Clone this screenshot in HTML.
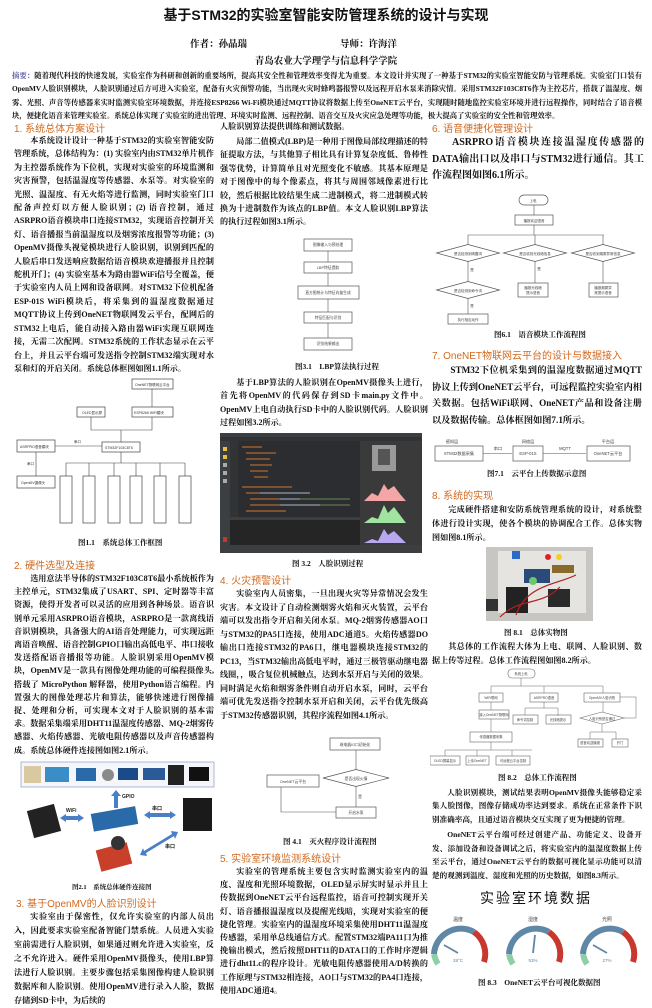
<!DOCTYPE html>
<html><head><meta charset="utf-8">
<style>
*{margin:0;padding:0;box-sizing:border-box}
body{width:652px;height:996px;background:#fff;position:relative;overflow:hidden;font-family:"Liberation Serif","Noto Serif CJK SC",serif;color:#111}
.a{position:absolute}
.p{position:absolute;font-size:8.1px;line-height:12.7px;font-weight:bold;text-align:justify;text-indent:2em}
.h{position:absolute;font-size:10px;color:#d2691e;font-family:"Liberation Sans","Noto Sans CJK SC",sans-serif;white-space:nowrap}
.c{position:absolute;font-size:7.5px;font-weight:bold;white-space:nowrap}
svg{position:absolute}
svg text{font-family:"Liberation Sans","Noto Sans CJK SC",sans-serif}
</style></head><body>

<div class="a" style="left:0;width:652px;top:5px;text-align:center;font-size:14px;font-weight:bold;font-family:'Liberation Sans','Noto Sans CJK SC',sans-serif">基于STM32的实验室智能安防管理系统的设计与实现</div>
<div class="a" style="left:190px;top:36px;font-size:9.5px;font-weight:bold">作者：孙晶瑞</div>
<div class="a" style="left:340px;top:36px;font-size:9.5px;font-weight:bold">导师：许海洋</div>
<div class="a" style="left:0;width:652px;top:53px;text-align:center;font-size:9.5px;font-weight:bold">青岛农业大学理学与信息科学学院</div>
<div class="a" style="left:12px;top:69px;width:630px;font-size:7.3px;line-height:13.4px;font-weight:bold;text-align:justify"><span style="color:#5a5aa8">摘要：</span>随着现代科技的快速发展，实验室作为科研和创新的重要场所，提高其安全性和管理效率变得尤为重要。本文设计并实现了一种基于STM32的实验室智能安防与管理系统。实验室门口装有OpenMV人脸识别模块，人脸识别通过后方可进入实验室，配备有火灾预警功能，当出现火灾时蜂鸣器报警以及远程开启水泵来消除灾情。采用STM32F103C8T6作为主控芯片，搭载了温湿度、烟雾、光照、声音等传感器来实时监测实验室环境数据，并连接ESP8266 Wi-Fi模块通过MQTT协议将数据上传至OneNET云平台，实现随时随地监控实验室环境并进行远程操作，同时结合了语音模块，便捷化语音来管理实验室。系统总体实现了实验室的进出管理、环境实时监测、远程控制、语音交互及火灾应急处理等功能，极大提高了实验室的安全性和管理效率。</div>

<!-- LEFT COLUMN -->
<div class="h" style="left:14px;top:120px">1. 系统总体方案设计</div>
<div class="p" style="left:14px;top:134px;width:200px;line-height:13.4px">本系统设计设计一种基于STM32的实验室智能安防管理系统，总体结构为：(1) 实验室内由STM32单片机作为主控器系统作为下位机，实现对实验室的环境监测和灾害预警，包括温湿度等传感器、水泵等。对实验室的光照、温湿度、有无火焰等进行监测，同时实验室门口配备声控灯以方便人脸识别；(2) 语音控制，通过ASRPRO语音模块串口连接STM32，实现语音控制开关灯、语音播报当前温湿度以及烟雾浓度报警等功能；(3) OpenMV摄像头视觉模块进行人脸识别，识别到匹配的人脸后串口发送响应数据给语音模块欢迎播报并且控制舵机开门；(4) 实验室基本为路由器WiFi信号全覆盖，便于实验室内人员上网和设备联网。对STM32下位机配备ESP-01S WiFi模块后，将采集到的温湿度数据通过MQTT协议上传到OneNET物联网发云平台，配网后的STM32上电后，能自动接入路由器WiFi实现互联网连接，无需二次配网。STM32系统的工作状态显示在云平台上，并且云平台端可发送指令控制STM32端实现对水泵和灯的开启关闭。系统总体框图如图1.1所示。</div>

<svg style="left:0;top:372px" width="215" height="160" viewBox="0 372 215 160">
<g fill="#fff" stroke="#444" stroke-width="0.7">
<rect x="132" y="379" width="41" height="10"/><rect x="77" y="407" width="28" height="10"/><rect x="132" y="407" width="41" height="10"/>
<rect x="102" y="442" width="38" height="10"/><rect x="17" y="440" width="38" height="12"/><rect x="17" y="476" width="38" height="12"/>
<rect x="60" y="476" width="12" height="47"/><rect x="83" y="476" width="12" height="47"/><rect x="108" y="476" width="12" height="47"/><rect x="130" y="476" width="12" height="47"/><rect x="154" y="476" width="12" height="47"/><rect x="179" y="476" width="12" height="47"/>
</g>
<g stroke="#444" stroke-width="0.6" fill="none">
<path d="M152 407V389M121 442V430H91V417M121 430H152V417M55 446H102M36 452V476M121 452V463H66V476M89 463V476M114 463V476M136 463V476M160 463V476M185 463H185V476M121 463H185"/>
</g>
<g font-size="3.5" fill="#333"><text x="135" y="386">OneNET物联网云平台</text><text x="82" y="414">OLED显示屏</text><text x="134" y="414">ESP8266 WiFi模块</text><text x="105" y="449">STM32F103C8T6</text><text x="20" y="448">ASRPRO语音模块</text><text x="21" y="484">OpenMV摄像头</text><text x="74" y="443">串口</text><text x="27" y="465">串口</text></g>
</svg>
<div class="c" style="left:78px;top:537px">图1.1　系统总体工作框图</div>

<div class="h" style="left:14px;top:557px">2. 硬件选型及连接</div>
<div class="p" style="left:14px;top:572px;width:200px;line-height:13.2px">选用意法半导体的STM32F103C8T6最小系统板作为主控单元，STM32集成了USART、SPI、定时器等丰富资源，使得开发者可以灵活的应用到各种场景。语音识别单元采用ASRPRO语音模块，ASRPRO是一款离线语音识别模块，具备强大的AI语音处理能力，可实现远距离语音唤醒、语音控制GPIO口输出高低电平、串口接收发送搭配语音播报等功能。人脸识别采用OpenMV模块，OpenMV是一款具有图像处理功能的可编程摄像头,搭载了 MicroPython 解释器，使用Python语言编程。内置强大的图像处理芯片和算法，能够快速进行图像捕捉、处理和分析，可实现本文对于人脸识别的基本需求。数据采集端采用DHT11温湿度传感器、MQ-2烟雾传感器、火焰传感器、光敏电阻传感器以及声音传感器构成。系统总体硬件连接图如图2.1所示。</div>

<svg style="left:0;top:760px" width="215" height="125" viewBox="0 760 215 125">
<rect x="21" y="762" width="193" height="25" fill="#f4f6fa" stroke="#9aa8c8" stroke-width="0.8"/>
<rect x="24" y="766" width="17" height="17" fill="#d9c9a0"/><rect x="45" y="767" width="24" height="15" fill="#3a8ec8"/><rect x="76" y="768" width="20" height="13" fill="#2a6aa8"/><circle cx="108" cy="775" r="6" fill="#8a8a8a"/><rect x="118" y="768" width="20" height="12" fill="#1a4a88"/><rect x="143" y="768" width="22" height="12" fill="#2a5a98"/><rect x="168" y="765" width="16" height="20" fill="#222"/><rect x="189" y="767" width="20" height="14" fill="#111"/>
<rect x="30" y="807" width="28" height="28" fill="#222" transform="rotate(-15 44 821)"/>
<rect x="92" y="810" width="45" height="18" fill="#2a6aa8" transform="rotate(-10 114 819)"/>
<rect x="183" y="798" width="29" height="33" fill="#1a1a1a"/>
<rect x="98" y="846" width="32" height="22" fill="#c8402a" transform="rotate(-15 114 857)"/><circle cx="118" cy="843" r="7" fill="#333"/>
<g fill="#4a7fc8"><path d="M60 818l6-4v2h12v-2l6 4-6 4v-2H66v2z"/><path d="M144 815l6-4v2h20v-2l6 4-6 4v-2h-20v2z"/><path d="M114 808v-12h-3l5-6 5 6h-3v12z"/><path d="M140 855l3-7 1 3 28-17-1-3 7 1-3 7-1-3-28 17 1 3z"/></g>
<g font-size="5" font-weight="bold" fill="#222"><text x="66" y="812">WiFi</text><text x="122" y="798">GPIO</text><text x="152" y="810">串口</text><text x="165" y="848">串口</text></g>
</svg>
<div class="c" style="left:72px;top:882px;font-size:6.5px">图2.1　系统总体硬件连接图</div>
<div class="h" style="left:16px;top:895px">3. 基于OpenMV的人脸识别设计</div>
<div class="p" style="left:14px;top:910px;width:200px;line-height:14px">实验室由于保密性，仅允许实验室的内部人员出入，因此要求实验室配备智能门禁系统。人员进入实验室前需进行人脸识别，如果通过则允许进入实验室，反之不允许进入。硬件采用OpenMV摄像头，使用LBP算法进行人脸识别。主要步骤包括采集图像构建人脸识别数据库和人脸识别。使用OpenMV进行录入人脸，数据存储到SD卡中，为后续的</div>

<!-- MIDDLE COLUMN -->
<div class="p" style="left:220px;top:121px;width:208px;text-indent:0">人脸识别算法提供训练和测试数据。</div>
<div class="p" style="left:220px;top:135px;width:208px;line-height:13.4px">局部二值模式(LBP)是一种用于图像局部纹理描述的特征提取方法，与其他算子相比具有计算复杂度低、鲁棒性强等优势，计算简单且对光照变化不敏感。其基本原理是对于图像中的每个像素点，将其与周围邻域像素进行比较，然后根据比较结果生成二进制模式，将二进制模式转换为十进制数作为该点的LBP值。本文人脸识别LBP算法的执行过程如图3.1所示。</div>
<svg style="left:290px;top:236px" width="80" height="118" viewBox="290 236 80 118">
<g fill="#fff" stroke="#555" stroke-width="0.7"><rect x="304" y="239" width="48" height="12"/><rect x="304" y="262" width="48" height="11"/><rect x="298" y="286" width="61" height="13"/><rect x="304" y="312" width="48" height="11"/><rect x="304" y="338" width="48" height="12"/></g>
<g stroke="#555" stroke-width="0.6"><path d="M328 251v11M328 273v13M328 299v13M328 323v15"/></g>
<g font-size="3.8" fill="#444" text-anchor="middle"><text x="328" y="246">图像输入与预处理</text><text x="328" y="269">LBP特征提取</text><text x="328" y="294">直方图统计与特征向量生成</text><text x="328" y="319">特征匹配与识别</text><text x="328" y="345">识别结果输出</text></g>
</svg>
<div class="c" style="left:295px;top:361px">图3.1　LBP算法执行过程</div>
<div class="p" style="left:220px;top:376px;width:208px;line-height:13.4px">基于LBP算法的人脸识别在OpenMV摄像头上进行，首先将OpenMV的代码保存到SD卡main.py文件中。OpenMV上电自动执行SD卡中的人脸识别代码。人脸识别过程如图3.2所示。</div>
<svg style="left:220px;top:433px" width="202" height="120" viewBox="0 0 202 120">
<rect width="202" height="120" fill="#2b2d30"/><rect width="202" height="4" fill="#3c3f41"/><rect y="4" width="202" height="4" fill="#313335"/>
<rect x="0" y="8" width="10" height="112" fill="#3c3f41"/>
<g fill="#e8c040"><rect x="3" y="14" width="4" height="4"/><rect x="3" y="22" width="4" height="4"/></g><g fill="#aaa"><rect x="3" y="30" width="4" height="4"/><rect x="3" y="38" width="4" height="4"/><rect x="3" y="46" width="4" height="4"/></g><rect x="3" y="104" width="4" height="5" fill="#c0392b"/>
<rect x="10" y="8" width="8" height="76" fill="#313335"/>
<g stroke-width="1"><path d="M22 14h20M26 20h30M26 26h24M30 32h22M30 38h18M34 44h14M22 54h50M26 60h60M30 66h90M30 72h70M26 78h40" stroke="#cc7832"/><path d="M60 66h40M60 72h60M40 60h50" stroke="#a9b7c6"/><path d="M80 66h50M100 72h30" stroke="#6a8759"/></g>
<rect x="10" y="84" width="184" height="28" fill="#252525"/><rect x="10" y="84" width="184" height="3" fill="#3c3f41"/>
<rect x="140" y="8" width="62" height="104" fill="#3a3a3a"/><rect x="152" y="12" width="24" height="26" fill="#999"/><rect x="158" y="16" width="12" height="16" fill="#555"/>
<path d="M144 68l8-8 6 3 6-12 4 6 6-4 6 8 6 7z" fill="#f4a6a6"/><path d="M144 90l8-6 6 2 6-14 4 8 6-6 6 8 6 8z" fill="#9fe49f"/><path d="M144 110l8-4 6 2 6-12 4 6 6-4 6 6 6 6z" fill="#b8a8f0"/>
<rect y="112" width="202" height="8" fill="#3c3f41"/>
</svg>
<div class="c" style="left:292px;top:558px">图 3.2　人脸识别过程</div>
<div class="h" style="left:220px;top:572px">4. 火灾预警设计</div>
<div class="p" style="left:220px;top:587px;width:208px;line-height:13.5px">实验室内人员密集，一旦出现火灾等异常情况会发生灾害。本文设计了自动检测烟雾火焰和灭火装置，云平台端可以发出指令开启和关闭水泵。MQ-2烟雾传感器AO口与STM32的PA5口连接，使用ADC通道5。火焰传感器DO输出口连接STM32的PA6口，继电器模块连接STM32的PC13，当STM32输出高低电平时，通过三极管驱动继电器线圈，，吸合复位机械触点，达到水泵开启与关闭的效果。同时满足火焰和烟雾条件则自动开启水泵，同时，云平台端可优先发送指令控制水泵开启和关闭，云平台优先级高于STM32传感器识别，其程序流程如图4.1所示。</div>
<svg style="left:260px;top:735px" width="130" height="90" viewBox="260 735 130 90">
<g fill="#fff" stroke="#555" stroke-width="0.7"><rect x="330" y="738" width="50" height="12"/><path d="M323 778l33-8.5 33 8.5-33 8.5z"/><rect x="267" y="775" width="52" height="12"/><rect x="336" y="807" width="40" height="11"/></g>
<g stroke="#555" stroke-width="0.6" fill="none"><path d="M356 750v20M356 786.5v20.5M281 787v25h55"/></g>
<g font-size="3.8" fill="#444" text-anchor="middle"><text x="355" y="746">继电器IO口初始化</text><text x="356" y="780">是否出现火情</text><text x="293" y="783">OneNET云平台</text><text x="356" y="814">开启水泵</text><text x="360" y="798">是</text></g>
</svg>
<div class="c" style="left:283px;top:836px">图 4.1　灭火程序设计流程图</div>
<div class="h" style="left:220px;top:850px">5. 实验室环境监测系统设计</div>
<div class="p" style="left:220px;top:865px;width:208px;line-height:13.2px">实验室的管理系统主要包含实时监测实验室内的温度、湿度和光照环境数据，OLED显示屏实时显示并且上传数据到OneNET云平台远程监控，语音可控制实现开关灯、语音播报温湿度以及提醒光线暗，实现对实验室的便捷化管理。实验室内的温湿度环境采集使用DHT11温湿度传感器，采用单总线通信方式。配置STM32端PA11口为推挽输出模式，然后按照DHT11的DATA口的工作时序逻辑进行dht11.c的程序设计。光敏电阻传感器使用A/D转换的工作原理与STM32相连接，AO口与STM32的PA4口连接，使用ADC通道4。</div>

<!-- RIGHT COLUMN -->
<div class="h" style="left:432px;top:120px">6. 语音便捷化管理设计</div>
<div class="p" style="left:432px;top:135px;width:212px;font-size:10px;line-height:16.5px">ASRPRO语音模块连接温湿度传感器的DATA输出口以及串口与STM32进行通信。其工作流程图如图6.1所示。</div>
<svg style="left:432px;top:190px" width="212" height="138" viewBox="432 190 212 138">
<g fill="#fff" stroke="#555" stroke-width="0.7"><rect x="519" y="195" width="29" height="10" rx="5"/><rect x="515" y="215" width="38" height="10"/>
<path d="M436.5 253l31.5-8.5 31.5 8.5-31.5 8.5z"/><path d="M503.5 253l31.5-8.5 31.5 8.5-31.5 8.5z"/><path d="M571.5 253l31.5-8.5 31.5 8.5-31.5 8.5z"/><path d="M436.5 290l31.5-8.5 31.5 8.5-31.5 8.5z"/>
<rect x="518" y="283" width="30" height="14"/><rect x="589" y="283" width="29" height="14"/><rect x="448" y="314" width="40" height="10"/></g>
<g stroke="#555" stroke-width="0.6" fill="none"><path d="M534 205v10M534 225v10M468 235h136M468 235v9.5M535 235v9.5M603 235v9.5M468 261.5v20M535 261.5v21.5M603 261.5v21.5M468 298.5v15.5"/></g>
<g font-size="3.5" fill="#444" text-anchor="middle"><text x="533" y="202">上电</text><text x="534" y="222">播报欢迎语音</text><text x="468" y="255">是否检测到唤醒词</text><text x="535" y="255">是否收到光线暗信息</text><text x="603" y="255">是否收到烟雾异常信息</text><text x="468" y="292">是否检测到命令词</text><text x="533" y="289">播报光线暗</text><text x="533" y="294">提示语音</text><text x="603" y="289">播报烟雾异</text><text x="603" y="294">常提示语音</text><text x="468" y="321">执行相应动作</text><text x="472" y="271">是</text><text x="539" y="270">是</text><text x="472" y="307">是</text></g>
</svg>
<div class="c" style="left:494px;top:329px">图6.1　语音模块工作流程图</div>
<div class="h" style="left:432px;top:347px">7.  OneNET物联网云平台的设计与数据接入</div>
<div class="p" style="left:432px;top:362px;width:210px;font-size:9.2px;line-height:16.5px">STM32下位机采集到的温湿度数据通过MQTT协议上传到OneNET云平台，可远程监控实验室内相关数据。包括WiFi联网、OneNET产品和设备注册以及数据传输。总体框图如图7.1所示。</div>
<svg style="left:432px;top:436px" width="212" height="30" viewBox="432 436 212 30">
<g fill="#fff" stroke="#555" stroke-width="0.7"><rect x="435" y="446" width="48" height="15"/><rect x="513" y="446" width="30" height="15"/><rect x="587" y="446" width="43" height="15"/></g>
<g stroke="#555" stroke-width="0.6"><path d="M483 453.5h29M543 453.5h43"/></g>
<g font-size="4.2" fill="#444" text-anchor="middle"><text x="459" y="455">STM32数据采集</text><text x="528" y="455">ESP-01S</text><text x="608" y="455">OneNET云平台</text><text x="452" y="443">感知层</text><text x="528" y="443">网络层</text><text x="608" y="443">平台层</text><text x="498" y="450">串口</text><text x="565" y="450">MQTT</text></g>
</svg>
<div class="c" style="left:487px;top:468px">图7.1　云平台上传数据示意图</div>
<div class="h" style="left:432px;top:487px">8.  系统的实现</div>
<div class="p" style="left:432px;top:503px;width:210px;line-height:14px">完成硬件搭建和安防系统管理系统的设计，对系统整体进行设计实现，使各个模块的协调配合工作。总体实物图如图8.1所示。</div>
<svg style="left:486px;top:547px" width="107" height="74" viewBox="0 0 107 74">
<rect width="107" height="74" fill="#c8c6c2"/><rect x="12" y="4" width="88" height="62" fill="#e6e4e0"/>
<rect x="20" y="40" width="22" height="26" fill="#222"/><rect x="62" y="42" width="22" height="18" fill="#2a2a2a"/><rect x="38" y="22" width="26" height="14" fill="#2a4a7a"/><rect x="66" y="18" width="22" height="8" fill="#8a6a2a"/>
<circle cx="47" cy="34" r="4" fill="#6ac86a"/><circle cx="62" cy="10" r="3" fill="#e02020"/><circle cx="73" cy="10" r="3" fill="#f0d020"/><rect x="26" y="4" width="8" height="8" fill="#2a6ac8"/>
<path d="M14 70c20-20 40-10 60-30M30 68c10-30 40-30 60-40" stroke="#b02020" stroke-width="1.2" fill="none"/><rect x="0" y="52" width="12" height="12" fill="#333"/>
</svg>
<div class="c" style="left:504px;top:627px">图 8.1　总体实物图</div>
<div class="p" style="left:432px;top:640px;width:210px;line-height:14px">其总体的工作流程大体为上电、联网、人脸识别、数据上传等过程。总体工作流程图如图8.2所示。</div>
<svg style="left:430px;top:666px" width="212" height="104" viewBox="430 666 212 104">
<g fill="#fff" stroke="#666" stroke-width="0.6"><rect x="508" y="669" width="27" height="9" rx="4"/>
<rect x="479" y="693" width="24" height="9"/><rect x="530" y="693" width="28" height="9"/><rect x="584" y="693" width="36" height="9"/>
<rect x="479" y="710" width="30" height="9"/><rect x="513" y="715" width="25" height="9"/><rect x="546" y="715" width="25" height="9"/>
<path d="M580 718l22-6 22 6-22 6z"/><rect x="470" y="732" width="42" height="10"/>
<rect x="578" y="739" width="25" height="8"/><rect x="612" y="739" width="16" height="8"/>
<rect x="430" y="756" width="30" height="9"/><rect x="466" y="756" width="23" height="9"/><rect x="496" y="756" width="34" height="9"/></g>
<g stroke="#666" stroke-width="0.5" fill="none"><path d="M521 678v8M491 686h112M491 686v7M544 686v7M603 686v7M491 702v8M544 702v6M525 708h33M525 708v7M558 708v8M603 702v10M491 719v13M602 724v8M590 732h26M590 732v7M616 732v7M491 742v8M445 750h87M445 750v6M477 750v6M512 750v6M624 718h12v-21h-16"/></g>
<g font-size="3.3" fill="#444" text-anchor="middle"><text x="521" y="675">系统上电</text><text x="491" y="699">WiFi联网</text><text x="544" y="699">ASRPRO语音</text><text x="602" y="699">OpenMV人脸识别</text><text x="494" y="716">接入OneNET物联网</text><text x="525" y="721">命令词控制</text><text x="558" y="721">光线暗提示</text><text x="602" y="720">人脸识别是否通过</text><text x="491" y="738">传感器数据采集</text><text x="590" y="744">语音欢迎播报</text><text x="620" y="744">开门</text><text x="445" y="762">OLED屏幕显示</text><text x="477" y="762">上传OneNET</text><text x="513" y="762">可远程云平台控制</text></g>
</svg>
<div class="c" style="left:498px;top:772px">图 8.2　总体工作流程图</div>
<div class="p" style="left:432px;top:786px;width:210px;line-height:13.4px;font-size:7.6px">人脸识别模块，测试结果表明OpenMV摄像头能够稳定采集人脸图像，图像存储成功率达到要求。系统在正常条件下识别准确率高，且通过语音模块交互实现了更为便捷的管理。</div>
<div class="p" style="left:432px;top:828px;width:210px;line-height:13.6px;font-size:7.6px">OneNET云平台端可经过创建产品、功能定义、设备开发、添加设备和设备调试之后，将实验室内的温湿度数据上传至云平台，通过OneNET云平台的数据可视化显示功能可以清楚的观测到温度、湿度和光照的历史数据，如图8.3所示。</div>
<div class="a" style="left:430px;width:212px;top:888px;text-align:center;font-size:14px;letter-spacing:2px;font-family:'Noto Sans CJK SC',sans-serif">实验室环境数据</div>
<svg style="left:430px;top:910px" width="212" height="64" viewBox="430 910 212 64">
<g fill="none" stroke-width="6">
<path d="M438 964a27 27 0 0 1-4-10" stroke="#8ecfa8"/><path d="M434 954a27 27 0 0 1 40-22" stroke="#5f87a6"/><path d="M474 932a27 27 0 0 1 10 30" stroke="#c8382e"/>
<path d="M513 964a27 27 0 0 1-4-10" stroke="#8ecfa8"/><path d="M509 954a27 27 0 0 1 40-22" stroke="#5f87a6"/><path d="M549 932a27 27 0 0 1 10 30" stroke="#c8382e"/>
<path d="M587 964a27 27 0 0 1-4-10" stroke="#8ecfa8"/><path d="M583 954a27 27 0 0 1 40-22" stroke="#5f87a6"/><path d="M623 932a27 27 0 0 1 10 30" stroke="#c8382e"/>
</g>
<g stroke="#5f87a6" stroke-width="1.8"><path d="M458 953l-14-8"/><path d="M533 953l2-18"/><path d="M607 953l-14-8"/></g>
<g font-size="5" fill="#444" text-anchor="middle"><text x="458" y="921">温度</text><text x="533" y="921">湿度</text><text x="607" y="921">光照</text></g>
<g font-size="4.5" fill="#5f87a6" text-anchor="middle"><text x="458" y="962">28°C</text><text x="533" y="962">53%</text><text x="607" y="962">27%</text></g>
</svg>
<div class="c" style="left:478px;top:977px">图 8.3　OneNET云平台可视化数据图</div>
</body></html>
